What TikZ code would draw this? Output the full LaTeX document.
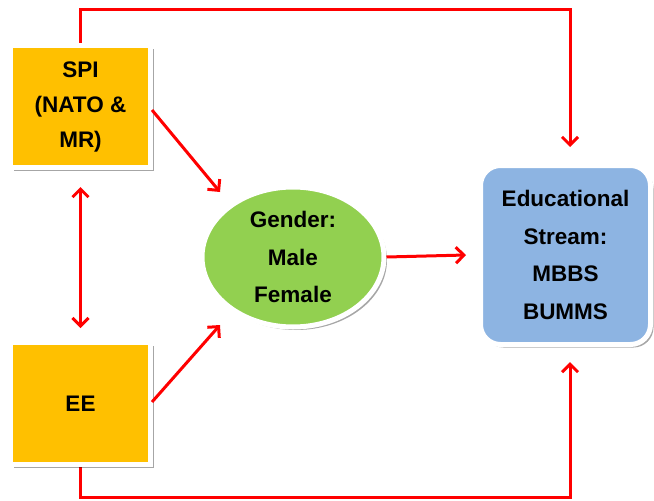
\documentclass[tikz,border=0pt]{standalone}
\usepackage{fontspec}
\setmainfont{Liberation Sans}
\usetikzlibrary{arrows.meta,shapes.geometric,shadows}
\definecolor{boxorange}{HTML}{FFC000}
\definecolor{boxgreen}{HTML}{92D050}
\definecolor{boxblue}{HTML}{8DB4E2}
\definecolor{arrred}{HTML}{FF0000}
\begin{document}
\begin{tikzpicture}[x=1pt,y=-1pt,
  boxbase/.style={draw=white,line width=5pt,
    drop shadow={shadow xshift=3pt,shadow yshift=-3pt,opacity=0.35,fill=black},
    font=\fontsize{22.5}{35}\selectfont\bfseries,align=center,inner sep=0pt},
  varbox/.style={boxbase,rectangle,fill=boxorange,minimum width=140pt,minimum height=122pt},
  genbox/.style={boxbase,ellipse,fill=boxgreen,minimum width=182pt,minimum height=140pt,
    font=\fontsize{22.5}{37.5}\selectfont\bfseries},
  edubox/.style={boxbase,rectangle,rounded corners=20pt,fill=boxblue,minimum width=170pt,minimum height=179pt,
    font=\fontsize{22.5}{37.5}\selectfont\bfseries},
  link/.style={draw=arrred,line width=3pt,-{Straight Barb[length=8pt,width=16pt,line width=3pt]}},
  link2/.style={draw=arrred,line width=3pt,{Straight Barb[length=8pt,width=16pt,line width=3pt]}-{Straight Barb[length=8pt,width=16pt,line width=3pt]}}
]
\useasboundingbox (0,0) rectangle (654,501);

\coordinate (tl) at (80,9);
\coordinate (tr) at (570,9);
\coordinate (ttip) at (570,147);
\coordinate (bl) at (80,497);
\coordinate (br) at (570,497);
\coordinate (btip) at (570,362);
\coordinate (g1) at (220,192);
\coordinate (g2) at (220,325);
\coordinate (s1) at (152,110);
\coordinate (e1) at (152,402);

% background connectors first (behind boxes)
\draw[link,-,line width=3pt] (80,106) -- (tl) -- (tr) -- (570,120);
\draw[link,-,line width=3pt] (80,403) -- (bl) -- (br) -- (570,390);

\node[varbox] (spi) at (80.5,106.5) {SPI\\(NATO \&\\MR)};
\node[varbox] (ee) at (80.5,403.5) {EE};
\node[genbox] (gender) at (293,257) {Gender:\\Male\\Female};
\node[edubox] (edu) at (565.5,255) {Educational\\Stream:\\MBBS\\BUMMS};

\draw[link] (tr) -- (ttip);
\draw[link] (br) -- (btip);
\draw[link] (s1) -- (g1);
\draw[link] (e1) -- (g2);
\draw[link] (gender.east) -- ([xshift=-12pt]edu.west);
\draw[link2,shorten <=17pt,shorten >=12pt] (spi.south) -- (ee.north);
\end{tikzpicture}
\end{document}
